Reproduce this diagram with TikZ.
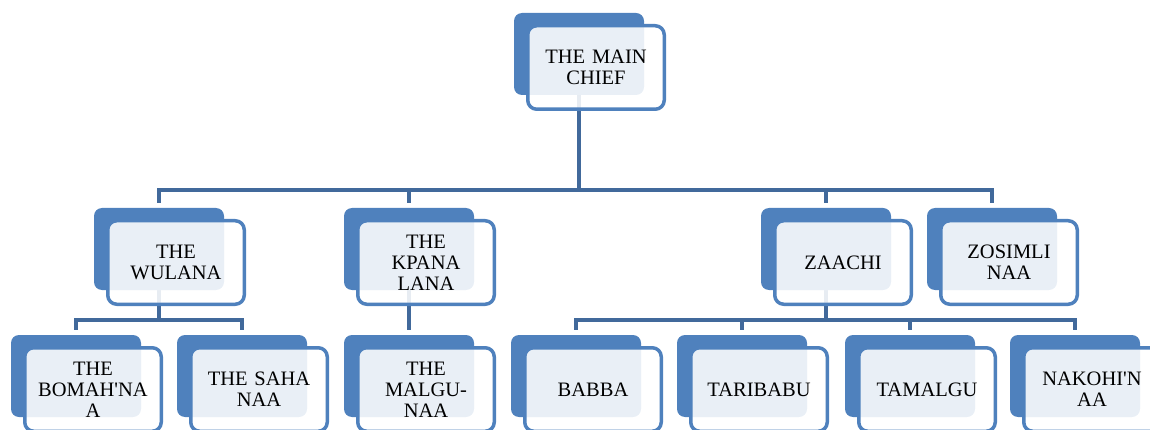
\documentclass[tikz,border=0pt]{standalone}
\usepackage{fontspec}
\setmainfont{Liberation Serif}
\definecolor{orgblue}{HTML}{4F81BD}
\definecolor{orgline}{HTML}{41699B}
\usetikzlibrary{backgrounds}

\begin{document}
\begin{tikzpicture}[x=1pt,y=-1pt,font=\fontsize{20.5}{21}\selectfont,
 back/.style={fill=orgblue,rounded corners=8pt,%
   minimum width=130pt,minimum height=82pt,inner sep=0pt},
 front/.style={draw=orgblue,line width=3.5pt,fill=white,fill opacity=0.88,%
   text opacity=1,text=black,rounded corners=9pt,minimum width=136.5pt,%
   minimum height=83.5pt,inner sep=0pt,text width=134pt,align=center},
 link/.style={draw=orgline,line width=4pt}]
\useasboundingbox (0,0) rectangle (1150,430);
\coordinate (tier1) at (0,190);
\coordinate (tier2) at (0,320);
% top
\node[back] (chiefbk) at (579,54) {};
\node[front] (chief) at ([shift={(17,13.5)}]chiefbk) {THE MAIN\\CHIEF};
% second row
\node[back] (wulanabk) at (159,249) {};
\node[front] (wulana) at ([shift={(17,13.5)}]wulanabk) {THE\\WULANA};
\node[back] (kpanabk) at (409,249) {};
\node[front] (kpana) at ([shift={(17,13.5)}]kpanabk) {THE\\KPANA\\LANA};
\node[back] (zaachibk) at (826,249) {};
\node[front] (zaachi) at ([shift={(17,13.5)}]zaachibk) {ZAACHI};
\node[back] (zosimlibk) at (992,249) {};
\node[front] (zosimli) at ([shift={(17,13.5)}]zosimlibk) {ZOSIMLI\\NAA};
% third row
\node[back] (bomahbk) at (76,376) {};
\node[front] (bomah) at ([shift={(17,13.5)}]bomahbk) {THE\\BOMAH\textquotesingle NA\\A};
\node[back] (sahabk) at (242,376) {};
\node[front] (saha) at ([shift={(17,13.5)}]sahabk) {THE SAHA\\NAA};
\node[back] (malgubk) at (409,376) {};
\node[front] (malgu) at ([shift={(17,13.5)}]malgubk) {THE\\MALGU-\\NAA};
\node[back] (babbabk) at (576,376) {};
\node[front] (babba) at ([shift={(17,13.5)}]babbabk) {BABBA};
\node[back] (taribabubk) at (742,376) {};
\node[front] (taribabu) at ([shift={(17,13.5)}]taribabubk) {TARIBABU};
\node[back] (tamalgubk) at (910,376) {};
\node[front] (tamalgu) at ([shift={(17,13.5)}]tamalgubk) {TAMALGU};
\node[back] (nakohibk) at (1075,376) {};
\node[front] (nakohi) at ([shift={(17,13.5)}]nakohibk) {NAKOHI\textquotesingle N\\AA};
% connectors behind the boxes
\begin{scope}[on background layer]
\draw[link] (chiefbk)--(chiefbk |- tier1);
\draw[link] ([yshift=5pt]wulanabk.north) |- (chiefbk |- tier1);
\draw[link] ([yshift=5pt]kpanabk.north) |- (chiefbk |- tier1);
\draw[link] ([yshift=5pt]zaachibk.north) |- (chiefbk |- tier1);
\draw[link] ([yshift=5pt]zosimlibk.north) |- (chiefbk |- tier1);
\draw[link] (wulanabk)--(wulanabk |- tier2);
\draw[link] ([yshift=5pt]bomahbk.north) |- (wulanabk |- tier2);
\draw[link] ([yshift=5pt]sahabk.north) |- (wulanabk |- tier2);
\draw[link] (kpanabk)--([yshift=5pt]malgubk.north);
\draw[link] (zaachibk)--(zaachibk |- tier2);
\draw[link] ([yshift=5pt]babbabk.north) |- (zaachibk |- tier2);
\draw[link] ([yshift=5pt]taribabubk.north) |- (zaachibk |- tier2);
\draw[link] ([yshift=5pt]tamalgubk.north) |- (zaachibk |- tier2);
\draw[link] ([yshift=5pt]nakohibk.north) |- (zaachibk |- tier2);
\end{scope}
\end{tikzpicture}
\end{document}
